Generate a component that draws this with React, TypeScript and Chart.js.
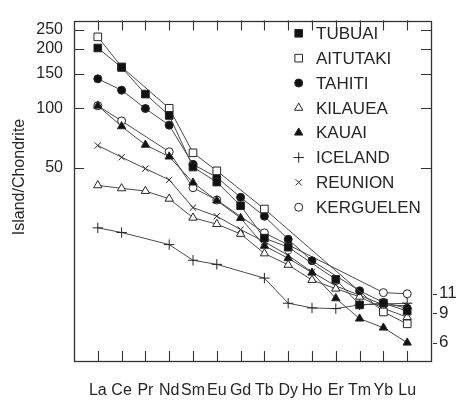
import React, { useEffect, useRef } from "react";
import { Chart, registerables } from "chart.js";

Chart.register(...registerables);

const ELEMENTS = ["La", "Ce", "Pr", "Nd", "Sm", "Eu", "Gd", "Tb", "Dy", "Ho", "Er", "Tm", "Yb", "Lu"];

const TUBUAI = [202, 161, 118, 92, 50.4, 42.3, 32.1, 22.0, 19.8, null, 13.6, 10.1, 10.3, 9.4];
const AITUTAKI = [230, 162, null, 100, 59.5, 48.2, null, 30.9, null, null, null, null, 9.3, 8.1];
const TAHITI = [141, 123.5, 99.7, 82.1, 52, 44.7, 35.4, 28.4, 21.7, 16.9, null, 11.9, 10.4, 9.7];
const KILAUEA = [40.7, 39.3, 38.1, 34.8, 27.9, 25.9, 23.1, 18.4, 16.1, 13.5, 12.2, 11.1, 9.7, 8.75];
const KAUAI = [103, 81, 65.3, 56.9, 42.0, 34.1, 27.8, 20.1, 17.4, 14.7, 10.9, 8.6, 7.74, 6.5];
const ICELAND = [24.8, 23.5, null, 20.4, 17.0, 16.2, null, 13.8, 10.3, 9.75, 9.67, 10.1, 10.2, 10.3];
const REUNION = [64.8, 56.5, 49.5, 43.4, 31.4, 28.4, 24.3, 21.1, 18.0, 14.8, 12.6, 11.3, 10.1, 10.0];
const KERGUELEN = [103, 86.3, null, 60.2, 39.6, 34.3, null, 23.4, null, null, null, null, 11.65, 11.5];

const SERIES_NAMES = ["TUBUAI", "AITUTAKI", "TAHITI", "KILAUEA", "KAUAI", "ICELAND", "REUNION", "KERGUELEN"];
const SERIES_VALUES = [TUBUAI, AITUTAKI, TAHITI, KILAUEA, KAUAI, ICELAND, REUNION, KERGUELEN];
const SERIES_STYLES = ["rect", "rect", "circle", "triangle", "triangle", "cross", "crossRot", "circle"];
const SERIES_FILLED = [true, false, true, false, true, false, false, false];

const LEFT_TICKS = [250, 200, 150, 100, 50];
const RIGHT_TICK_VALUES = [11.5, 9.2, 6.5];
const RIGHT_TICK_LABELS = ["11", "9", "6"];
const Y_TITLE = "Island/Chondrite";

const Y_MIN = 5.25;
const Y_MAX = 278;
const FONT = "'Liberation Sans', Arial, Helvetica, sans-serif";
const INK = "#262626";

function radiusFor(style: string) {
  if (style === "rect") return 5.4;
  if (style === "circle") return 4;
  if (style === "triangle") return 4.8;
  if (style === "cross") return 5.2;
  return 4.4;
}

function drawMarker(ctx: CanvasRenderingContext2D, style: string, filled: boolean, x: number, y: number) {
  const r = radiusFor(style);
  ctx.save();
  ctx.lineWidth = 1;
  ctx.strokeStyle = INK;
  ctx.fillStyle = filled ? "#111" : "#fff";
  ctx.beginPath();
  if (style === "rect") {
    const s = Math.SQRT1_2 * r;
    ctx.rect(x - s, y - s, 2 * s, 2 * s);
    ctx.fill();
    ctx.stroke();
  } else if (style === "circle") {
    ctx.arc(x, y, r, 0, Math.PI * 2);
    ctx.fill();
    ctx.stroke();
  } else if (style === "triangle") {
    let a = 0;
    ctx.moveTo(x + Math.sin(a) * r, y - Math.cos(a) * r);
    a += (2 * Math.PI) / 3;
    ctx.lineTo(x + Math.sin(a) * r, y - Math.cos(a) * r);
    a += (2 * Math.PI) / 3;
    ctx.lineTo(x + Math.sin(a) * r, y - Math.cos(a) * r);
    ctx.closePath();
    ctx.fill();
    ctx.stroke();
  } else if (style === "cross") {
    ctx.moveTo(x, y - r);
    ctx.lineTo(x, y + r);
    ctx.moveTo(x - r, y);
    ctx.lineTo(x + r, y);
    ctx.stroke();
  } else {
    const d = Math.SQRT1_2 * r;
    ctx.moveTo(x - d, y - d);
    ctx.lineTo(x + d, y + d);
    ctx.moveTo(x + d, y - d);
    ctx.lineTo(x - d, y + d);
    ctx.stroke();
  }
  ctx.restore();
}

const framePlugin = {
  id: "frameTicks",
  beforeDatasetsDraw(chart: any) {
    const { ctx, chartArea, scales } = chart;
    const { left, right, top, bottom } = chartArea;
    ctx.save();
    ctx.strokeStyle = "#333";
    ctx.lineWidth = 1.3;
    ctx.strokeRect(Math.round(left) + 0.5, Math.round(top) + 0.5, Math.round(right - left), Math.round(bottom - top));
    ctx.lineWidth = 1.1;
    ctx.beginPath();
    const tl = 10;
    ELEMENTS.forEach((_, i) => {
      const x = Math.round(scales.x.getPixelForValue(i)) + 0.5;
      ctx.moveTo(x, top);
      ctx.lineTo(x, top + tl);
      ctx.moveTo(x, bottom);
      ctx.lineTo(x, bottom - tl);
    });
    LEFT_TICKS.forEach((v) => {
      const y = Math.round(scales.y.getPixelForValue(v)) + 0.5;
      ctx.moveTo(left, y);
      ctx.lineTo(left + tl, y);
      ctx.moveTo(right, y);
      ctx.lineTo(right - tl, y);
    });
    RIGHT_TICK_VALUES.forEach((v) => {
      const y = Math.round(scales.y2.getPixelForValue(v)) + 0.5;
      ctx.moveTo(right + 2, y);
      ctx.lineTo(right + 6, y);
    });
    ctx.stroke();
    ctx.restore();
  },
  afterDraw(chart: any) {
    const { ctx } = chart;
    ctx.save();
    ctx.fillStyle = INK;
    ctx.font = `16px ${FONT}`;
    ctx.textAlign = "center";
    ctx.textBaseline = "middle";
    ctx.translate(20, 177);
    ctx.rotate(-Math.PI / 2);
    ctx.fillText(Y_TITLE, 0, 0);
    ctx.restore();

    ctx.save();
    const mx = 298.7;
    const tx = 316;
    const y0 = 33.3;
    const dy = 24.85;
    SERIES_NAMES.forEach((name, i) => {
      const y = y0 + i * dy;
      drawMarker(ctx, SERIES_STYLES[i], SERIES_FILLED[i], mx, y);
      ctx.fillStyle = INK;
      ctx.font = `17px ${FONT}`;
      ctx.textAlign = "left";
      ctx.textBaseline = "middle";
      ctx.fillText(name, tx, y + 1);
    });
    ctx.restore();
  },
};

export default function App() {
  const ref = useRef<HTMLCanvasElement | null>(null);

  useEffect(() => {
    if (!ref.current) return;
    const datasets = SERIES_NAMES.map((name, i) => ({
      label: name,
      data: SERIES_VALUES[i].map((v, j) => ({ x: j, y: v })),
      borderColor: "#4a4a4a",
      borderWidth: 1,
      pointStyle: SERIES_STYLES[i],
      pointRadius: radiusFor(SERIES_STYLES[i]),
      pointBackgroundColor: SERIES_FILLED[i] ? "#111" : "#fff",
      pointBorderColor: INK,
      pointBorderWidth: 1,
      spanGaps: true,
      tension: 0,
      fill: false,
    }));

    const chart = new Chart(ref.current, {
      type: "line",
      data: { datasets },
      plugins: [framePlugin],
      options: {
        animation: false,
        responsive: false,
        layout: { padding: { top: 4, left: 0, right: 0, bottom: 0 } },
        plugins: {
          legend: { display: false },
          tooltip: { enabled: false },
        },
        scales: {
          x: {
            type: "linear",
            min: -1,
            max: 14,
            afterBuildTicks: (scale: any) => {
              scale.ticks = ELEMENTS.map((_, i) => ({ value: i }));
            },
            afterFit: (scale: any) => {
              scale.height = 41;
            },
            grid: { display: false, drawTicks: false },
            border: { display: false },
            ticks: {
              autoSkip: false,
              maxRotation: 0,
              minRotation: 0,
              padding: 20,
              color: INK,
              font: { family: FONT, size: 16 },
              callback: (v: any) => ELEMENTS[v] ?? "",
            },
          },
          y: {
            type: "logarithmic",
            position: "left",
            min: Y_MIN,
            max: Y_MAX,
            afterBuildTicks: (scale: any) => {
              scale.ticks = LEFT_TICKS.map((v) => ({ value: v }));
            },
            afterFit: (scale: any) => {
              scale.width = 74;
            },
            grid: { display: false, drawTicks: false },
            border: { display: false },
            ticks: {
              padding: 11,
              color: INK,
              font: { family: FONT, size: 16 },
              callback: (v: any) => String(v),
            },
          },
          y2: {
            type: "logarithmic",
            position: "right",
            min: Y_MIN,
            max: Y_MAX,
            afterBuildTicks: (scale: any) => {
              scale.ticks = RIGHT_TICK_VALUES.map((v) => ({ value: v }));
            },
            afterFit: (scale: any) => {
              scale.width = 27;
            },
            grid: { display: false, drawTicks: false },
            border: { display: false },
            ticks: {
              padding: 8,
              color: INK,
              font: { family: FONT, size: 17 },
              callback: (_v: any, i: number) => RIGHT_TICK_LABELS[i],
            },
          },
        },
      } as any,
    });
    return () => chart.destroy();
  }, []);

  return (
    <div style={{ position: "absolute", left: 0, top: 0, width: 458, height: 402, background: "#fff" }}>
      <canvas ref={ref} width={458} height={402} style={{ display: "block" }} />
    </div>
  );
}
